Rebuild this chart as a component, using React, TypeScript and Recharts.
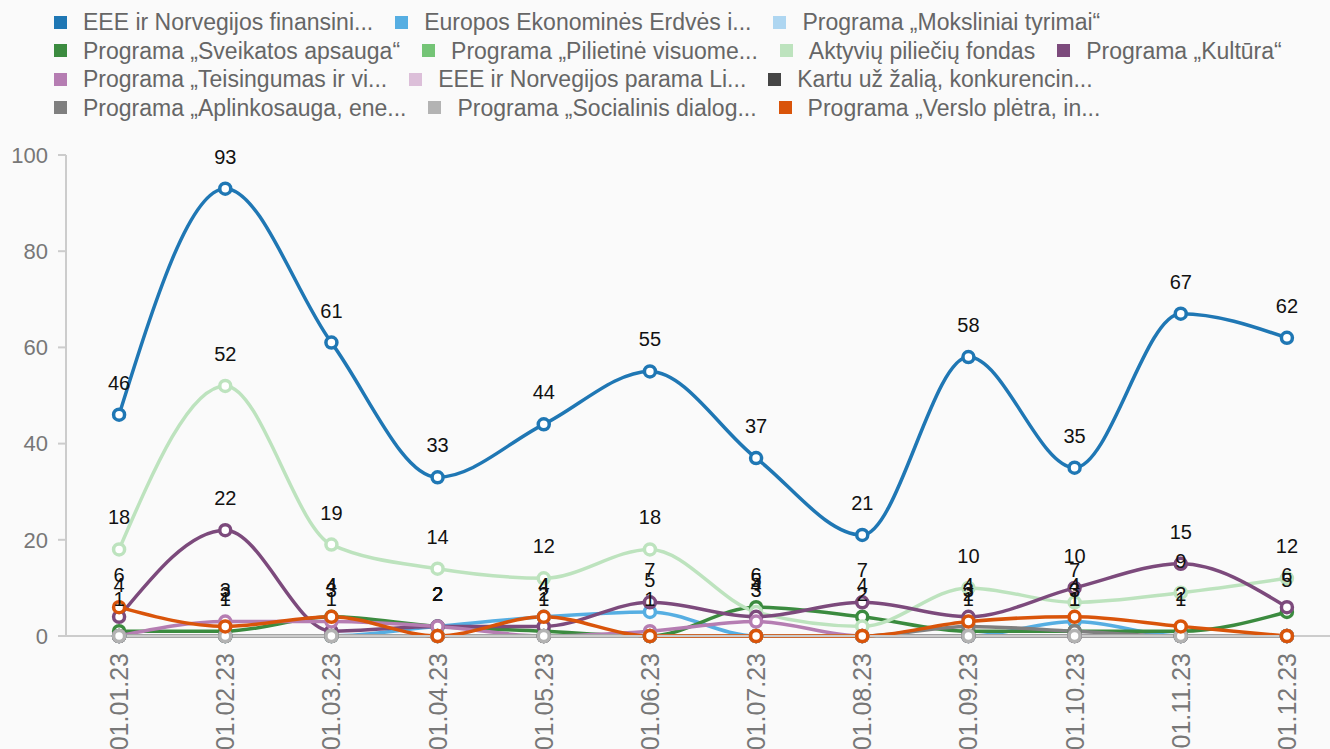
import { CartesianGrid, Legend, LabelList, Line, LineChart, XAxis, YAxis } from 'recharts'

// month labels on the x axis
const months = ['01.01.23', '01.02.23', '01.03.23', '01.04.23', '01.05.23', '01.06.23',
    '01.07.23', '01.08.23', '01.09.23', '01.10.23', '01.11.23', '01.12.23']

const eeeFinansinis = [46, 93, 61, 33, 44, 55, 37, 21, 58, 35, 67, 62]
const europosErdve = [0, 0, 0, 2, 4, 5, 0, 0, 0, 3, 0, 0]
const moksliniaiTyrimai = [0, 0, 0, 0, 0, 0, 0, 0, 0, 0, 0, 0]
const sveikatosApsauga = [1, 1, 4, 2, 1, 0, 6, 4, 1, 1, 1, 5]
const pilietineVisuomene = [0, 0, 0, 0, 0, 0, 0, 0, 0, 0, 0, 0]
const aktyviuPilieciu = [18, 52, 19, 14, 12, 18, 5, 2, 10, 7, 9, 12]
const kultura = [4, 22, 1, 2, 2, 7, 4, 7, 4, 10, 15, 6]
const teisingumas = [0, 3, 3, 2, 0, 1, 3, 0, 0, 0, 0, 0]
const eeeParama = [0, 0, 0, 0, 0, 0, 0, 0, 0, 0, 0, 0]
const kartuUzZalia = [0, 0, 0, 0, 0, 0, 0, 0, 0, 0, 0, 0]
const aplinkosauga = [0, 0, 0, 0, 0, 0, 0, 0, 2, 1, 0, 0]
const socialinisDialogas = [0, 0, 0, 0, 0, 0, 0, 0, 0, 0, 0, 0]
const versloPletra = [6, 2, 4, 0, 4, 0, 0, 0, 3, 4, 2, 0]

const yTicks = [0, 20, 40, 60, 80, 100]

const series = [
    { key: 's1', name: 'EEE ir Norvegijos finansini...', values: eeeFinansinis, color: '#1f77b4' },
    { key: 's2', name: 'Europos Ekonominės Erdvės i...', values: europosErdve, color: '#56aee2' },
    { key: 's3', name: 'Programa „Moksliniai tyrimai“', values: moksliniaiTyrimai, color: '#aed6f1' },
    { key: 's4', name: 'Programa „Sveikatos apsauga“', values: sveikatosApsauga, color: '#3b8b3f' },
    { key: 's5', name: 'Programa „Pilietinė visuome...', values: pilietineVisuomene, color: '#74c476' },
    { key: 's6', name: 'Aktyvių piliečių fondas', values: aktyviuPilieciu, color: '#bde3be' },
    { key: 's7', name: 'Programa „Kultūra“', values: kultura, color: '#7c4a7c' },
    { key: 's8', name: 'Programa „Teisingumas ir vi...', values: teisingumas, color: '#b57db2' },
    { key: 's9', name: 'EEE ir Norvegijos parama Li...', values: eeeParama, color: '#dcbfd9' },
    { key: 's10', name: 'Kartu už žalią, konkurencin...', values: kartuUzZalia, color: '#454545' },
    { key: 's11', name: 'Programa „Aplinkosauga, ene...', values: aplinkosauga, color: '#7f7f7f' },
    { key: 's12', name: 'Programa „Socialinis dialog...', values: socialinisDialogas, color: '#b3b3b3' },
    { key: 's13', name: 'Programa „Verslo plėtra, in...', values: versloPletra, color: '#d9540a' },
]

const data = months.map((m, i) => {
    const row: any = { idx: i, month: m }
    series.forEach(s => { row[s.key] = s.values[i] })
    return row
})

const centers = months.map((m, i) => i)
const bounds = [...months.map((m, i) => i - 0.5), months.length - 0.5]

const DateTick = (props: any) => {
    const { x, y, payload } = props
    return (
        <text x={x} y={y} transform={`rotate(-90 ${x} ${y})`} textAnchor="end" dy="0.36em"
            fontSize={25} fill="#777">
            {months[payload.value]}
        </text>
    )
}

// recharts sorts the payload by name, keep the series order instead
const renderLegend = () => (
    <div style={{ display: 'flex', flexWrap: 'wrap', lineHeight: '28.5px', fontSize: 23, color: '#666' }}>
        {series.map(s => (
            <div key={s.key} style={{ display: 'flex', alignItems: 'center', marginRight: 22, whiteSpace: 'nowrap' }}>
                <span style={{ width: 13, height: 13, background: s.color, marginRight: 16, display: 'inline-block' }} />
                <span>{s.name}</span>
            </div>
        ))}
    </div>
)

export default function App() {
    return (
        <div style={{ width: 1330, height: 749, overflow: 'hidden', background: '#fafafa', position: 'relative',
            fontFamily: '"Liberation Sans", Arial, sans-serif' }}>
            <style>{'body{margin:0}'}</style>
            <LineChart width={1360} height={749} data={data}
                margin={{ top: 155, right: 20, left: 0, bottom: 0 }}>
                <XAxis xAxisId="g" type="number" dataKey="idx" domain={[-0.5, 11.5]} ticks={bounds}
                    interval={0} tick={false} tickSize={12} axisLine={false} height={0}
                    tickLine={{ stroke: '#ccc', strokeWidth: 2 }} />
                <XAxis type="number" dataKey="idx" domain={[-0.5, 11.5]} ticks={centers} interval={0}
                    tick={<DateTick />} tickLine={false} tickSize={0} tickMargin={17} height={113}
                    axisLine={{ stroke: '#ccc', strokeWidth: 2 }} />
                <YAxis domain={[0, 100]} ticks={yTicks} width={66} tickSize={8} tickMargin={10}
                    tick={{ fill: '#777', fontSize: 22 }} axisLine={{ stroke: '#ccc', strokeWidth: 2 }}
                    tickLine={{ stroke: '#ccc', strokeWidth: 2 }} />
                <CartesianGrid xAxisId="g" horizontal={false} stroke="#ccc" strokeWidth={2} />
                <Legend layout="horizontal" verticalAlign="middle" align="center" content={renderLegend}
                    wrapperStyle={{ top: 8, left: 54, width: 1300 }} />
                {series.map(s => (
                    <Line key={s.key} type="monotone" dataKey={s.key} name={s.name} stroke={s.color}
                        strokeWidth={3.5} dot={{ r: 5.5, strokeWidth: 3.5, fill: '#fff' }} activeDot={false}
                        isAnimationActive={false}>
                        <LabelList dataKey={s.key} position="top" offset={25} fontSize={20} fill="#111"
                            formatter={(v: any) => (v ? v : '')} />
                    </Line>
                ))}
            </LineChart>
        </div>
    )
}
